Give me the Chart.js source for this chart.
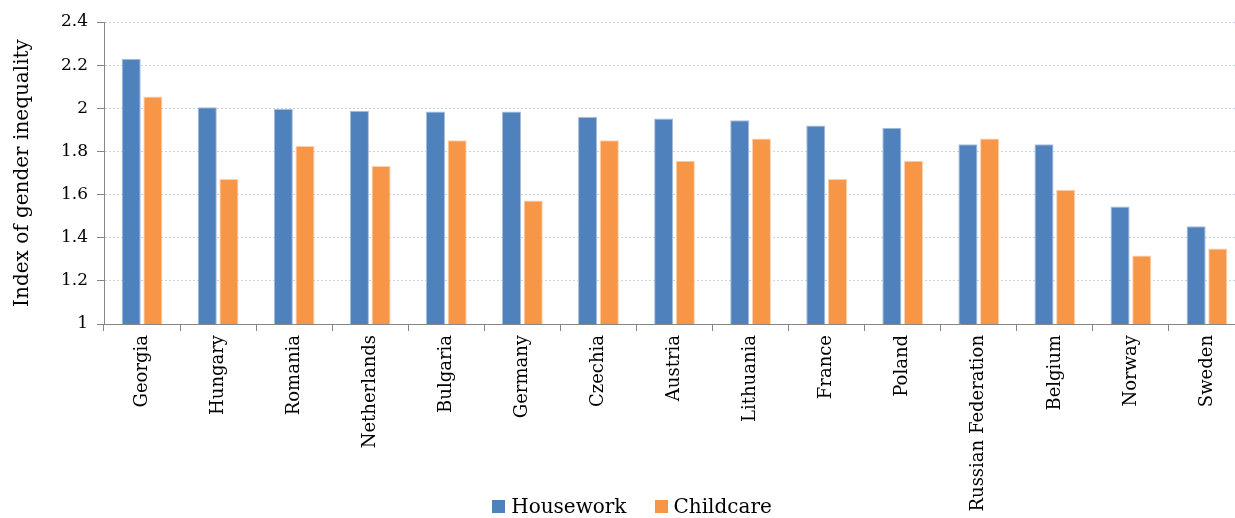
<!DOCTYPE html>
<html>
<head>
<meta charset="utf-8">
<script src="https://cdn.jsdelivr.net/npm/chart.js@4"></script>
<style>
  html, body { margin: 0; padding: 0; background: #fff; overflow: hidden; }
  #wrap { width: 1264px; height: 518px; position: relative; }
  #legend {
    position: absolute; left: 0; width: 1264px; top: 493px;
    display: flex; justify-content: center; align-items: center;
    font-family: 'DejaVu Serif'; font-size: 20px; color: #000; line-height: 26px;
  }
  #legend .item { display: flex; align-items: center; margin: 0 14px; }
  #legend .box { width: 13px; height: 13px; margin-right: 6px; }
</style>
</head>
<body>
<div id="wrap">
  <canvas id="chart"></canvas>
  <div id="legend"></div>
</div>
<script>
// values
const countries = ['Georgia', 'Hungary', 'Romania', 'Netherlands', 'Bulgaria', 'Germany', 'Czechia',
  'Austria', 'Lithuania', 'France', 'Poland', 'Russian Federation', 'Belgium', 'Norway', 'Sweden']
const housework = [2.23, 2.005, 1.997, 1.988, 1.985, 1.985, 1.96, 1.953, 1.945, 1.92, 1.91, 1.833, 1.833, 1.545, 1.453]
const childcare = [2.055, 1.672, 1.825, 1.732, 1.852, 1.572, 1.852, 1.757, 1.86, 1.672, 1.757, 1.86, 1.622, 1.318, 1.35]
const yTicks = [1, 1.2, 1.4, 1.6, 1.8, 2, 2.2, 2.4]

const serif = 'DejaVu Serif'
const axisGray = '#868686'

const chart = new Chart(document.getElementById('chart'), {
  type: 'bar',
  data: {
    labels: countries,
    datasets: [
      {
        label: 'Housework',
        data: housework,
        backgroundColor: '#4F81BD',
        borderColor: '#a7bedd',
        borderWidth: 1
      },
      {
        label: 'Childcare',
        data: childcare,
        backgroundColor: '#F79646',
        borderColor: '#fcd0ad',
        borderWidth: 1
      }
    ]
  },
  options: {
    responsive: true,
    maintainAspectRatio: false,
    animation: false,
    categoryPercentage: 0.57,
    barPercentage: 0.88,
    layout: { padding: { top: 22, right: 19, left: 0, bottom: 0 } },
    plugins: {
      legend: { display: false },
      tooltip: { enabled: false }
    },
    scales: {
      x: {
        grid: {
          display: true,
          drawOnChartArea: false,
          color: axisGray,
          tickLength: 7
        },
        border: { color: axisGray, width: 1 },
        ticks: {
          color: '#000',
          font: { family: serif, size: 18 },
          minRotation: 90,
          maxRotation: 90,
          autoSkip: false,
          padding: 4
        },
        // tall enough that "Russian Federation" reaches the bottom edge
        afterFit: (scale) => { scale.height = 194 }
      },
      y: {
        min: 1,
        max: 2.4,
        afterBuildTicks: (scale) => { scale.ticks = yTicks.map(v => ({ value: v })) },
        grid: {
          color: '#c3d3ec',
          lineWidth: 1,
          tickColor: axisGray,
          tickLength: 7,
          tickBorderDash: [1, 0]
        },
        border: { color: axisGray, width: 1, dash: [2, 2] },
        ticks: {
          color: '#000',
          font: { family: serif, size: 17 },
          padding: 9,
          callback: (v) => String(Math.round(v * 10) / 10)
        },
        title: {
          display: true,
          text: 'Index of gender inequality',
          color: '#000',
          font: { family: serif, size: 20 },
          padding: { top: 11, bottom: 0 }
        },
        afterFit: (scale) => { scale.width = 104 }
      }
    }
  }
})

// legend built from the datasets, like the html labels list
const legendEl = document.getElementById('legend')
chart.data.datasets.forEach((ds) => {
  const item = document.createElement('div')
  item.className = 'item'
  const box = document.createElement('div')
  box.className = 'box'
  box.style.backgroundColor = ds.backgroundColor
  const label = document.createElement('span')
  label.textContent = ds.label
  item.appendChild(box)
  item.appendChild(label)
  legendEl.appendChild(item)
})
</script>
</body>
</html>
